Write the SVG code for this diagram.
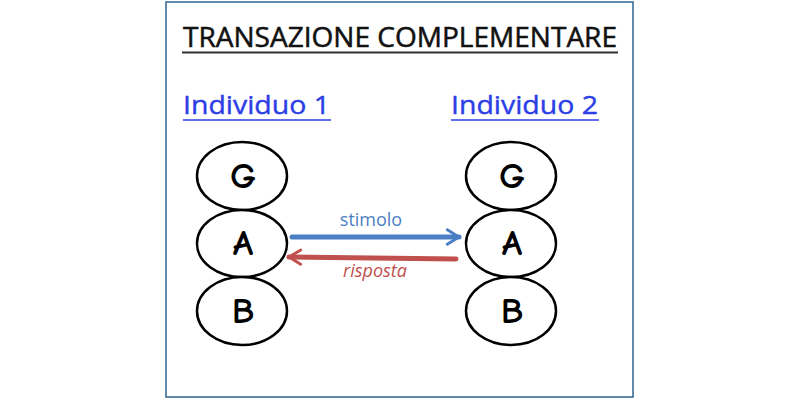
<svg xmlns="http://www.w3.org/2000/svg" width="800" height="400" viewBox="0 0 800 400">
<style>
.ell{fill:#fff;stroke:#000;stroke-width:2.5}
.lt{font-family:"Comic Neue","DejaVu Sans",sans-serif;font-size:37px;font-weight:bold;text-anchor:middle;fill:#000}
.ind{font-family:"Open Sans","Noto Sans",sans-serif;font-size:26px;fill:#2b3ee6;stroke:#2b3ee6;stroke-width:0.4}
</style>
<defs>
<marker id="hb" viewBox="0 0 10 10" refX="8" refY="5" markerWidth="3.6" markerHeight="3.6" orient="auto" markerUnits="strokeWidth"><path d="M1.5,1 L8,5 L1.5,9" fill="none" stroke="#4a7fc4" stroke-width="1.6" stroke-linecap="round" stroke-linejoin="round"/></marker>
<marker id="hr" viewBox="0 0 10 10" refX="8" refY="5" markerWidth="3.6" markerHeight="3.6" orient="auto" markerUnits="strokeWidth"><path d="M1.5,1 L8,5 L1.5,9" fill="none" stroke="#c0504d" stroke-width="1.6" stroke-linecap="round" stroke-linejoin="round"/></marker>
</defs>
<rect width="800" height="400" fill="#fff"/>
<rect x="166" y="2" width="467" height="395" fill="none" stroke="#2e6390" stroke-width="1.5"/>
<g id="title">
<text x="400" y="47" font-family="'Open Sans','Noto Sans',sans-serif" font-size="27" text-anchor="middle" fill="#111" stroke="#111" stroke-width="0.5" textLength="434" lengthAdjust="spacingAndGlyphs">TRANSAZIONE COMPLEMENTARE</text>
<line x1="182" y1="52.5" x2="618" y2="52.5" stroke="#333" stroke-width="2"/>
</g>
<g id="ind1"><text class="ind" x="183" y="114" textLength="147" lengthAdjust="spacingAndGlyphs">Individuo 1</text><line x1="183" y1="120" x2="331" y2="120" stroke="#2b3ee6" stroke-width="1.5"/></g>
<g id="ind2"><text class="ind" x="451" y="114" textLength="147" lengthAdjust="spacingAndGlyphs">Individuo 2</text><line x1="451" y1="120" x2="599" y2="120" stroke="#2b3ee6" stroke-width="1.5"/></g>
<g id="g1"><ellipse class="ell" cx="242" cy="176" rx="45" ry="34"/><text class="lt" x="243" y="188">G</text></g>
<g id="a1"><ellipse class="ell" cx="242" cy="243.5" rx="45" ry="33.5"/><text class="lt" x="243" y="255">A</text></g>
<g id="b1"><ellipse class="ell" cx="242" cy="311" rx="45" ry="34"/><text class="lt" x="243" y="323">B</text></g>
<g id="g2"><ellipse class="ell" cx="511" cy="176" rx="45" ry="34"/><text class="lt" x="512" y="188">G</text></g>
<g id="a2"><ellipse class="ell" cx="511" cy="243.5" rx="45" ry="33.5"/><text class="lt" x="512" y="255">A</text></g>
<g id="b2"><ellipse class="ell" cx="511" cy="311" rx="45" ry="34"/><text class="lt" x="512" y="323">B</text></g>
<g id="connectors">
<line x1="292" y1="237" x2="459" y2="237" stroke="#4a7fc4" stroke-width="5" stroke-linecap="round" marker-end="url(#hb)"/>
<text x="371" y="226" font-family="'Open Sans','Noto Sans',sans-serif" font-size="18" text-anchor="middle" fill="#4a7fc4">stimolo</text>
<line x1="456" y1="259" x2="289" y2="257" stroke="#c0504d" stroke-width="5" stroke-linecap="round" marker-end="url(#hr)"/>
<text x="375" y="277" font-family="'Open Sans','Noto Sans',sans-serif" font-size="18" font-style="italic" text-anchor="middle" fill="#c0504d">risposta</text>
</g>
</svg>
